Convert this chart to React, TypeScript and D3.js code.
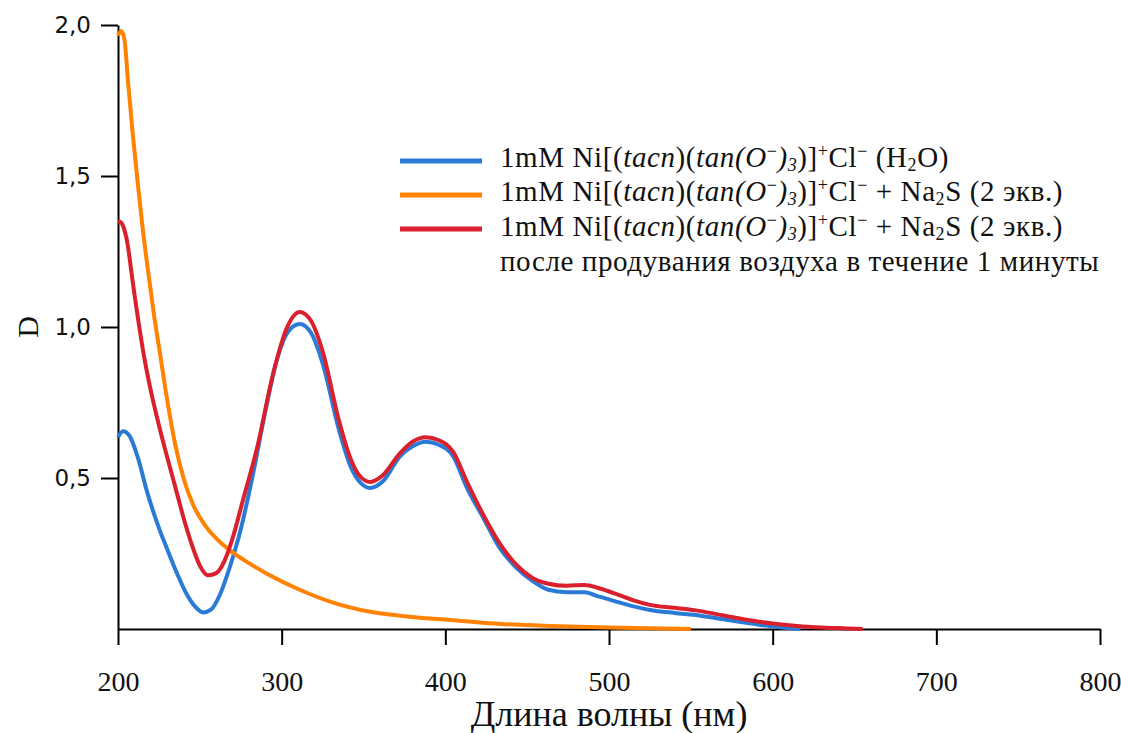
import React, { useEffect, useRef } from "react";
import * as d3 from "d3";

// axis ticks
const xTicks = [200, 300, 400, 500, 600, 700, 800];
const xMinorTicks = [250, 350, 450, 550, 650, 750];
const yTicks = [0.5, 1.0, 1.5, 2.0];
const yTickLabels = ["0,5", "1,0", "1,5", "2,0"];
const yMinorTicks = [0.25, 0.75, 1.25, 1.75];

// 1mM complex in water
const waveH2O = [200, 203, 207, 212, 218, 224, 230, 236, 242, 247, 252, 257, 262, 268, 275, 282, 290, 297, 304, 311, 318, 325, 335, 342, 348, 354, 362, 372, 380, 388, 396, 405, 413, 423, 433, 443, 453, 463, 474, 485, 494, 505, 515, 525, 540, 555, 570, 585, 600, 617];
const absH2O = [0.635, 0.655, 0.64, 0.57, 0.45, 0.35, 0.265, 0.185, 0.115, 0.075, 0.055, 0.065, 0.11, 0.2, 0.33, 0.5, 0.72, 0.89, 0.985, 1.01, 0.98, 0.88, 0.66, 0.54, 0.485, 0.467, 0.49, 0.57, 0.605, 0.62, 0.61, 0.57, 0.47, 0.37, 0.27, 0.205, 0.16, 0.13, 0.122, 0.122, 0.107, 0.09, 0.075, 0.063, 0.053, 0.045, 0.032, 0.02, 0.008, 0];

// + Na2S (2 eq.)
const waveNa2S = [200, 202, 204, 206, 209, 212, 215, 218, 222, 226, 230, 235, 240, 246, 253, 260, 268, 280, 291, 311, 330, 355, 380, 403, 430, 464, 500, 550];
const absNa2S = [1.965, 1.98, 1.95, 1.82, 1.64, 1.48, 1.33, 1.2, 1.04, 0.9, 0.76, 0.61, 0.5, 0.41, 0.345, 0.3, 0.262, 0.218, 0.183, 0.13, 0.09, 0.056, 0.04, 0.03, 0.018, 0.01, 0.005, 0];

// + Na2S (2 eq.), after 1 min of air
const waveAir = [200, 202, 204, 206, 208, 210, 213, 216, 220, 225, 230, 236, 241, 246, 250, 255, 260, 265, 270, 276, 285, 295, 303, 311, 318, 325, 335, 342, 348, 354, 362, 372, 380, 388, 396, 405, 413, 423, 433, 443, 453, 463, 474, 485, 494, 505, 515, 525, 540, 555, 570, 585, 600, 615, 630, 645, 655];
const absAir = [1.35, 1.345, 1.32, 1.27, 1.19, 1.11, 1.0, 0.9, 0.79, 0.675, 0.57, 0.45, 0.35, 0.265, 0.21, 0.178, 0.185, 0.225, 0.3, 0.42, 0.60, 0.85, 0.995, 1.05, 1.02, 0.92, 0.69, 0.565, 0.505, 0.487, 0.51, 0.58, 0.62, 0.635, 0.625, 0.585, 0.49, 0.38, 0.285, 0.215, 0.17, 0.15, 0.143, 0.146, 0.135, 0.115, 0.095, 0.08, 0.07, 0.06, 0.045, 0.03, 0.018, 0.01, 0.005, 0.002, 0];

const seriesColors = ["#2a7bd6", "#ff8200", "#d9202c"];

type Seg = { t: string; i?: boolean; sup?: boolean; sub?: boolean };
const complexSegs: Seg[] = [
  { t: "1mM Ni[(" },
  { t: "tacn", i: true },
  { t: ")(" },
  { t: "tan(O", i: true },
  { t: "−", sup: true },
  { t: ")", i: true },
  { t: "3", sub: true, i: true },
  { t: ")]" },
  { t: "+", sup: true },
  { t: "Cl" },
  { t: "−", sup: true },
];
const legendLines: Seg[][] = [
  [...complexSegs, { t: " (H" }, { t: "2", sub: true }, { t: "O)" }],
  [...complexSegs, { t: " + Na" }, { t: "2", sub: true }, { t: "S (2 экв.)" }],
  [...complexSegs, { t: " + Na" }, { t: "2", sub: true }, { t: "S (2 экв.)" }],
  [{ t: "после продувания воздуха в течение 1 минуты" }],
];

const App = () => {
  const ref = useRef<SVGSVGElement>(null);

  useEffect(() => {
    const svg = d3.select(ref.current);
    svg.selectAll("*").remove();

    const x = d3.scaleLinear().domain([200, 800]).range([118, 1100]);
    const y = d3.scaleLinear().domain([0, 2]).range([629, 25]);

    // x axis
    const gx = svg.append("g").attr("transform", `translate(0,${y(0)})`);
    gx.call(d3.axisBottom(x).tickValues(xMinorTicks).tickSize(3).tickFormat(() => ""));
    gx.call(
      d3.axisBottom(x).tickValues(xTicks).tickSize(16).tickSizeOuter(0).tickPadding(26).tickFormat((d) => String(d))
    );
    gx.selectAll("path, line").attr("stroke", "#000").attr("stroke-width", 2);
    gx.selectAll("text")
      .attr("font-family", "Liberation Serif, serif")
      .attr("font-size", 28)
      .attr("fill", "#111");

    // y axis
    const gy = svg.append("g").attr("transform", `translate(${x(200)},0)`);
    gy.call(d3.axisLeft(y).tickValues(yMinorTicks).tickSize(3).tickFormat(() => ""));
    gy.call(
      d3.axisLeft(y).tickValues(yTicks).tickSize(17).tickSizeOuter(0).tickPadding(10)
        .tickFormat((d, i) => yTickLabels[i])
    );
    gy.selectAll("path, line").attr("stroke", "#000").attr("stroke-width", 2);
    gy.selectAll("text")
      .attr("font-family", "DejaVu Sans, sans-serif")
      .attr("font-size", 23)
      .attr("fill", "#111");

    // axis titles
    svg.append("text")
      .attr("x", (x(200) + x(800)) / 2)
      .attr("y", 726)
      .attr("text-anchor", "middle")
      .attr("font-family", "Liberation Serif, serif")
      .attr("font-size", 36)
      .attr("fill", "#111")
      .text("Длина волны (нм)");
    svg.append("text")
      .attr("transform", `translate(38,${y(1)}) rotate(-90)`)
      .attr("text-anchor", "middle")
      .attr("font-family", "Liberation Serif, serif")
      .attr("font-size", 30)
      .attr("fill", "#111")
      .text("D");

    // spectra
    const series = [
      { w: waveH2O, a: absH2O },
      { w: waveNa2S, a: absNa2S },
      { w: waveAir, a: absAir },
    ];
    const line = d3
      .line<[number, number]>()
      .x((d) => x(d[0]))
      .y((d) => y(d[1]))
      .curve(d3.curveMonotoneX);
    series.forEach((s, k) => {
      const pts = s.w.map((w, i) => [w, s.a[i]] as [number, number]);
      svg.append("path")
        .datum(pts)
        .attr("fill", "none")
        .attr("stroke", seriesColors[k])
        .attr("stroke-width", 4)
        .attr("stroke-linejoin", "round")
        .attr("d", line);
    });

    // legend
    const fs = 29;
    const swatchYs = [161, 195, 229];
    const baseYs = [167, 201, 236, 271];
    const lg = svg.append("g");
    seriesColors.forEach((c, k) => {
      lg.append("line")
        .attr("x1", 400).attr("x2", 482)
        .attr("y1", swatchYs[k]).attr("y2", swatchYs[k])
        .attr("stroke", c).attr("stroke-width", 5);
    });
    legendLines.forEach((segs, k) => {
      const t = lg.append("text")
        .attr("x", 500)
        .attr("y", baseYs[k])
        .attr("font-family", "Liberation Serif, serif")
        .attr("font-size", fs)
        .attr("letter-spacing", 0.6)
        .attr("fill", "#111");
      let shift = 0;
      segs.forEach((s) => {
        const target = s.sup ? -0.36 * fs : s.sub ? 0.14 * fs : 0;
        t.append("tspan")
          .attr("dy", target - shift)
          .attr("font-style", s.i ? "italic" : "normal")
          .attr("font-size", s.sup || s.sub ? fs * 0.62 : fs)
          .text(s.t);
        shift = target;
      });
    });
  }, []);

  return (
    <svg
      ref={ref}
      width={1121}
      height={733}
      style={{ position: "absolute", left: 0, top: 0, background: "#fff" }}
    />
  );
};

export default App;
